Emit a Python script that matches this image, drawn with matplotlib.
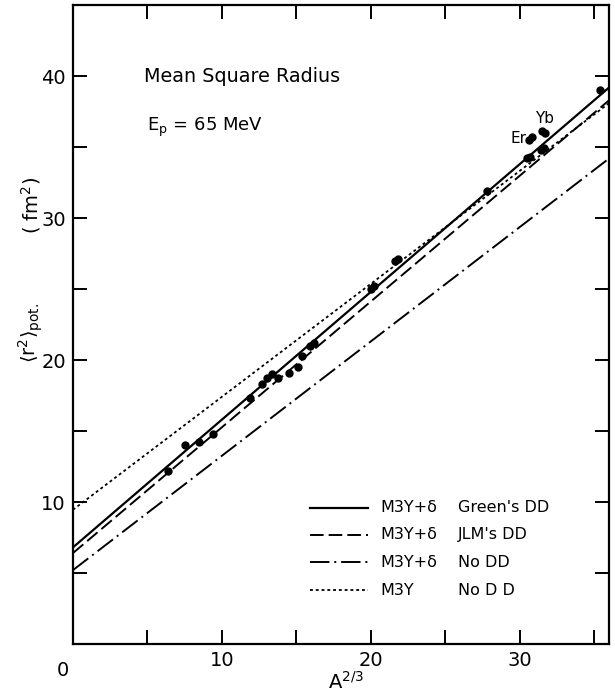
import numpy as np
import matplotlib.pyplot as plt
from matplotlib.lines import Line2D

# measured mean square radii vs A^(2/3)
a23 = [6.4, 7.5, 8.5, 9.4, 11.9, 12.7, 13.0, 13.4, 13.8, 14.5, 15.1, 15.4,
       15.9, 16.2, 20.0, 20.2, 21.6, 21.8, 27.8, 30.5, 30.7, 30.6, 30.8,
       31.4, 31.6, 31.5, 31.7, 35.4]
r2 = [12.2, 14.0, 14.2, 14.8, 17.3, 18.3, 18.7, 19.0, 18.75, 19.1, 19.5, 20.3,
      21.0, 21.2, 25.0, 25.2, 27.0, 27.1, 31.9, 34.2, 34.3, 35.5, 35.7,
      34.8, 34.9, 36.1, 36.0, 39.0]

# straight-line fits: values at A^2/3 = 0 and 36
x_line = np.array([0.0, 36.0])
greens = [6.8, 39.2]
jlm = [6.4, 38.3]
no_dd = [5.2, 34.2]
m3y = [9.45, 38.1]

styles = [
    (greens, '-', 1.6, "M3Y+δ", "Green's DD"),
    (jlm, (0, (7, 2.6)), 1.4, "M3Y+δ", "JLM's DD"),
    (no_dd, (0, (10, 2.5, 1, 2.5)), 1.4, "M3Y+δ", "No DD"),
    (m3y, (0, (1.6, 1.6)), 1.3, "M3Y", "No D D"),
]

plt.rcParams['font.family'] = 'DejaVu Sans'
fig = plt.figure(figsize=(6.15, 6.96), dpi=100)
ax = fig.add_axes([0.1185, 0.0747, 0.872, 0.918])

for vals, ls, lw, _, _ in styles:
    ax.plot(x_line, vals, color='black', linestyle=ls, linewidth=lw)

ax.plot(a23, r2, 'o', color='black', markersize=5)

ax.set_xlim(0, 36)
ax.set_ylim(0, 45)

ax.set_xticks([5, 10, 15, 20, 25, 30, 35])
ax.set_xticklabels(['', '10', '', '20', '', '30', ''])
ax.set_yticks([5, 10, 15, 20, 25, 30, 35, 40])
ax.set_yticklabels(['', '10', '', '20', '', '30', '', '40'])
ax.tick_params(direction='in', length=10, width=1.4, labelsize=14,
               top=True, right=True, pad=5)
for s in ax.spines.values():
    s.set_linewidth(1.6)

ax.text(-0.7, -1.2, '0', fontsize=14, ha='center', va='top')

ax.text(4.8, 40, 'Mean Square Radius', fontsize=13.8, va='center')
ax.text(5.0, 36.4, r'E$_\mathregular{p}$ = 65 MeV', fontsize=13, va='center')
ax.text(29.4, 35.6, 'Er', fontsize=11, va='center')
ax.text(31.0, 37.0, 'Yb', fontsize=11, va='center')

ax.text(0.51, -0.06, r'A$^{\mathregular{2/3}}$', transform=ax.transAxes,
        fontsize=14, ha='center', va='center')
fig.text(0.05, 0.522, r'$\langle$r$^\mathregular{2}\rangle_\mathregular{pot.}$',
         rotation=90, fontsize=14, ha='center', va='center')
fig.text(0.05, 0.705, r'( fm$^\mathregular{2}$)', rotation=90, fontsize=14,
         ha='center', va='center')

# legend block drawn by hand for the two text columns
rows_y = [0.213, 0.171, 0.128, 0.0845]
for (vals, ls, lw, lab1, lab2), yy in zip(styles, rows_y):
    ax.add_line(Line2D([0.442, 0.55], [yy, yy], transform=ax.transAxes,
                       color='black', linestyle=ls, linewidth=lw))
    ax.text(0.573, yy, lab1, transform=ax.transAxes, fontsize=11.5, va='center')
    ax.text(0.718, yy, lab2, transform=ax.transAxes, fontsize=11.5, va='center')

fig.savefig('out.png', dpi=100)
